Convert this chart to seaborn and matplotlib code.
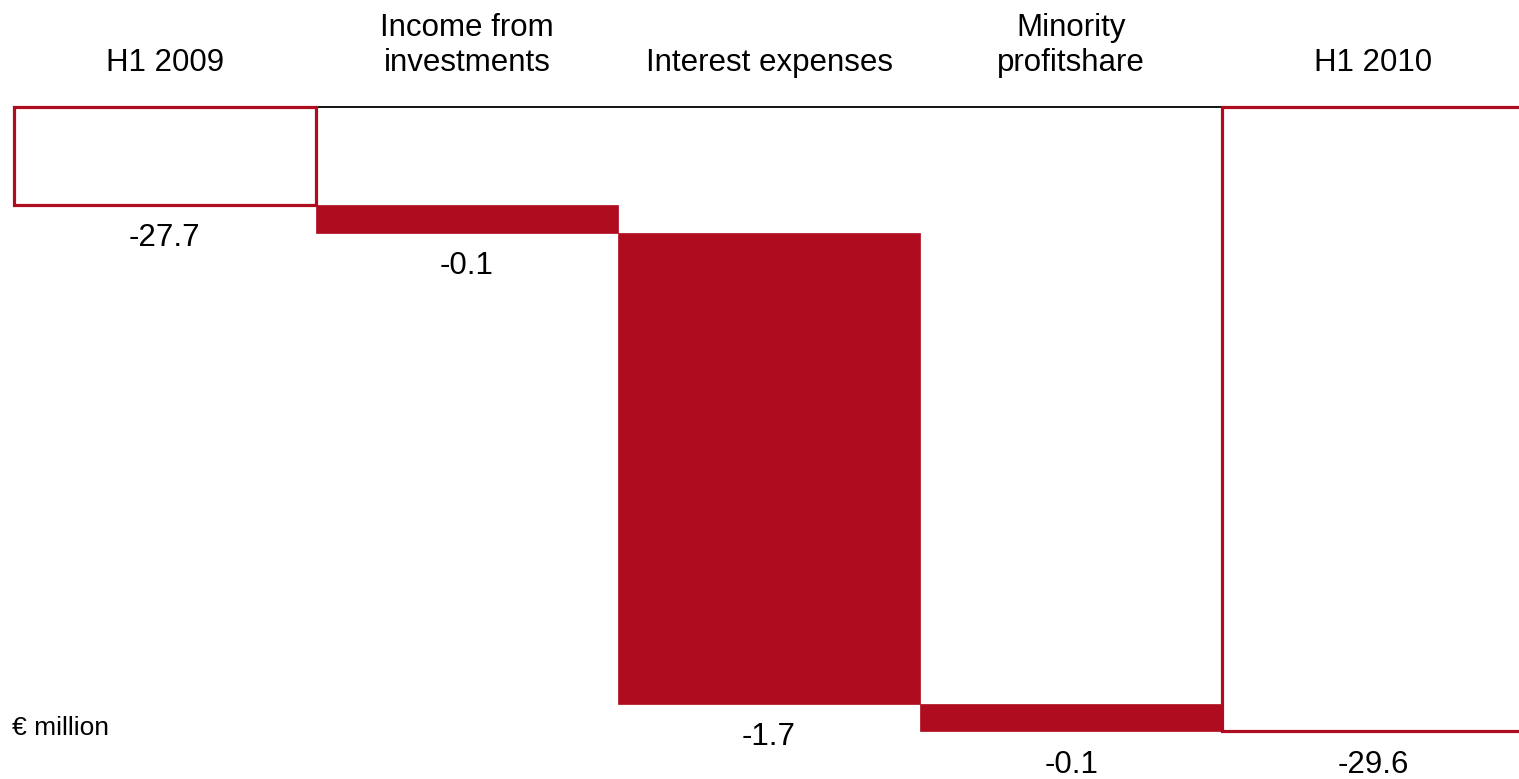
import matplotlib
matplotlib.use("Agg")
import matplotlib.pyplot as plt
import seaborn as sns
import numpy as np
import pandas as pd

# Net financial result bridge, € million
categories = ["H1 2009", "Income from\ninvestments", "Interest expenses",
              "Minority\nprofitshare", "H1 2010"]
changes = [-27.7, -0.1, -1.7, -0.1, -29.6]
value_labels = ["-27.7", "-0.1", "-1.7", "-0.1", "-29.6"]
is_total = [True, False, False, False, True]

# Axis is broken: bars hang from this reference level
axis_top = -27.346

sns.set_theme(style="white")
plt.rcParams["font.family"] = ["Liberation Sans", "DejaVu Sans"]

# Waterfall geometry
starts, ends = [], []
running = 0.0
for val, tot in zip(changes, is_total):
    if tot:
        starts.append(axis_top)
        ends.append(val)
        running = val
    else:
        starts.append(running)
        running = running + val
        ends.append(running)
heights = [e - s for s, e in zip(starts, ends)]

df = pd.DataFrame({"category": categories, "height": heights, "bottom": starts})

fig = plt.figure(figsize=(15.19, 7.79), dpi=100)
ax = fig.add_axes([0, 0, 1, 1])

red = "#B00C1F"
sns.barplot(data=df, x="category", y="height", bottom=df["bottom"].values,
            color=red, width=1.0, ax=ax, legend=False)

for patch, tot in zip(ax.patches, is_total):
    if tot:
        patch.set_facecolor("white")
        patch.set_edgecolor(red)
        patch.set_linewidth(2.3)
    else:
        patch.set_facecolor(red)
        patch.set_edgecolor(red)
        patch.set_linewidth(0.5)

ax.set_xlim(-0.546, 4.483)
ax.set_ylim(-29.772, -26.96)
ax.axhline(axis_top, xmin=0.009, xmax=1.0, color="black", lw=1.3, zorder=0)

# Category headings above the reference line
for i, cat in enumerate(categories):
    ax.text(i, -27.216, cat, ha="center", va="baseline", fontsize=22.5,
            linespacing=1.2, color="black")

# Value labels under each bar
for i, (e, lab) in enumerate(zip(ends, value_labels)):
    ax.annotate(lab, xy=(i, e), xytext=(0, -24), textcoords="offset points",
                ha="center", va="center", fontsize=22.5, color="black")

ax.text(-0.506, -29.588, "€ million", ha="left", va="center", fontsize=19,
        color="black")

ax.set_axis_off()
fig.savefig("out.png", dpi=100)
